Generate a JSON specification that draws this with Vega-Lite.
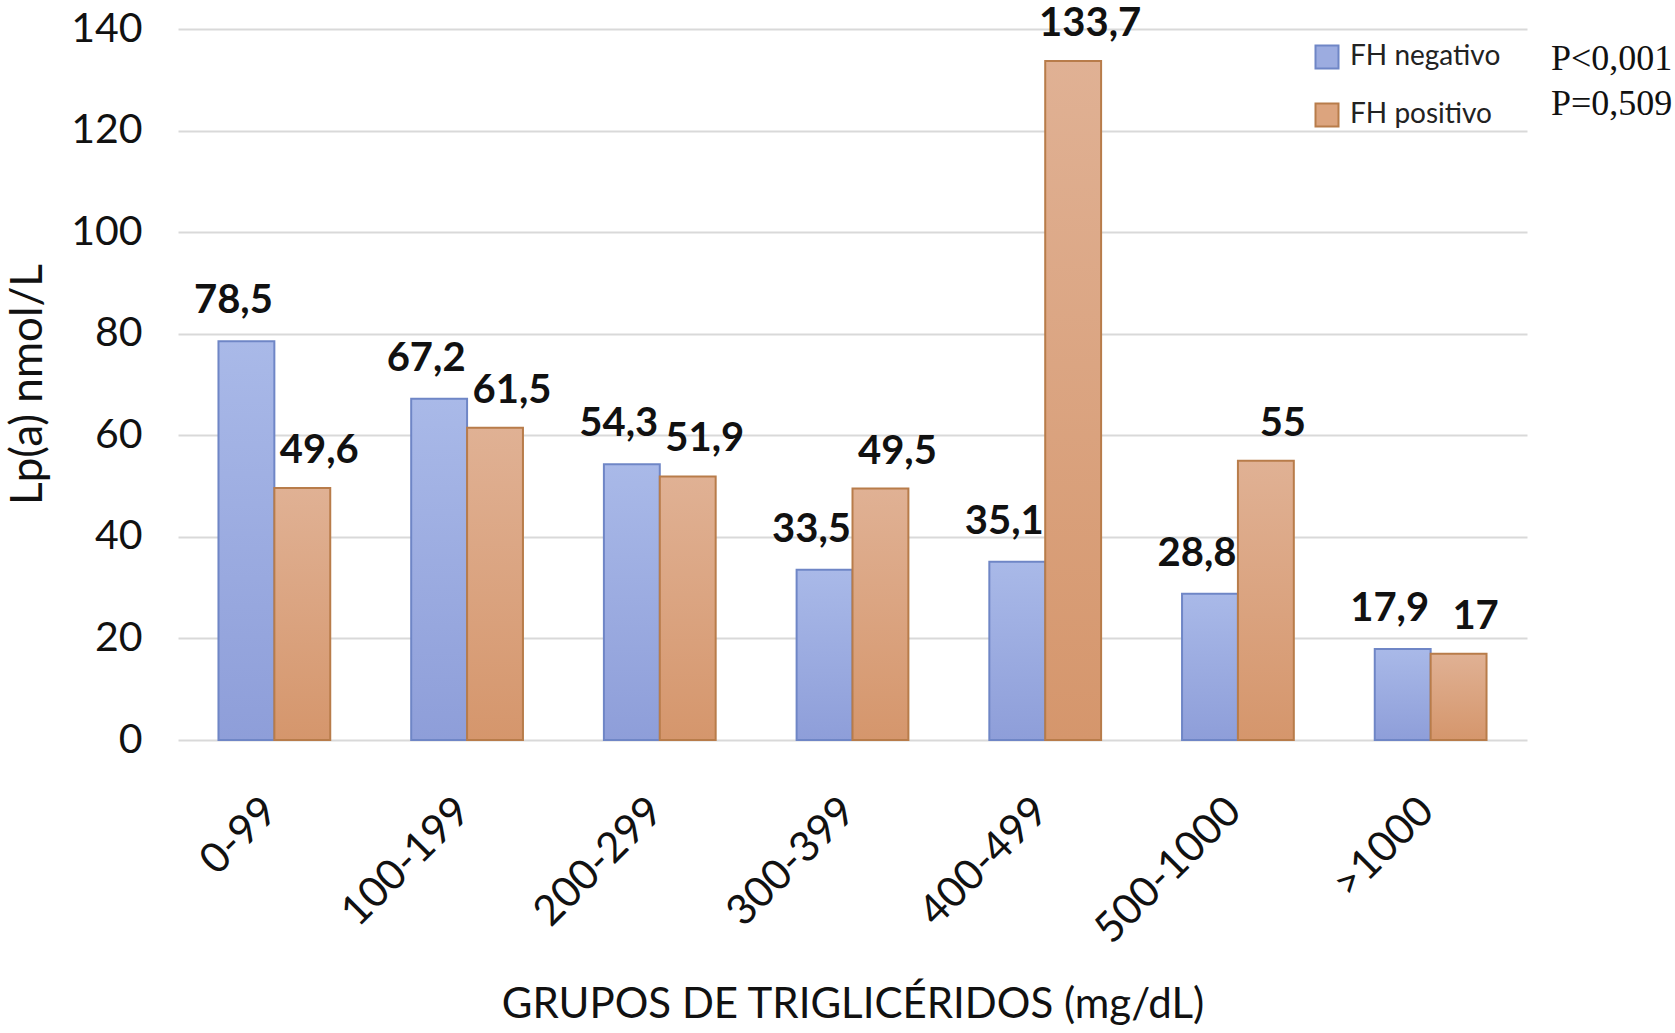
{
  "$schema": "https://vega.github.io/schema/vega-lite/v6.json",
  "width": 1349,
  "height": 711,
  "autosize": {"type": "none"},
  "padding": {"left": 178, "top": 29, "right": 148, "bottom": 293},
  "background": "white",
  "config": {
    "locale": {"number": {"decimal": ",", "thousands": ".", "grouping": [3], "currency": ["", " €"]}},
    "view": {"stroke": null},
    "font": "Lato"
  },
  "data": {
    "values": [
      {"grupo": "0-99", "serie": "FH negativo", "valor": 78.5, "p": "P<0,001"},
      {"grupo": "0-99", "serie": "FH positivo", "valor": 49.6, "p": "P=0,509"},
      {"grupo": "100-199", "serie": "FH negativo", "valor": 67.2, "p": "P<0,001"},
      {"grupo": "100-199", "serie": "FH positivo", "valor": 61.5, "p": "P=0,509"},
      {"grupo": "200-299", "serie": "FH negativo", "valor": 54.3, "p": "P<0,001"},
      {"grupo": "200-299", "serie": "FH positivo", "valor": 51.9, "p": "P=0,509"},
      {"grupo": "300-399", "serie": "FH negativo", "valor": 33.5, "p": "P<0,001"},
      {"grupo": "300-399", "serie": "FH positivo", "valor": 49.5, "p": "P=0,509"},
      {"grupo": "400-499", "serie": "FH negativo", "valor": 35.1, "p": "P<0,001"},
      {"grupo": "400-499", "serie": "FH positivo", "valor": 133.7, "p": "P=0,509"},
      {"grupo": "500-1000", "serie": "FH negativo", "valor": 28.8, "p": "P<0,001"},
      {"grupo": "500-1000", "serie": "FH positivo", "valor": 55, "p": "P=0,509"},
      {"grupo": ">1000", "serie": "FH negativo", "valor": 17.9, "p": "P<0,001"},
      {"grupo": ">1000", "serie": "FH positivo", "valor": 17, "p": "P=0,509"}
    ]
  },
  "encoding": {
    "x": {
      "field": "grupo",
      "type": "nominal",
      "sort": ["0-99", "100-199", "200-299", "300-399", "400-499", "500-1000", ">1000"],
      "scale": {"paddingInner": 0.42, "paddingOuter": 0.21},
      "axis": {
        "title": "GRUPOS DE TRIGLICÉRIDOS (mg/dL)",
        "labelAngle": -45,
        "labelFont": "Lato",
        "labelFontSize": 42,
        "labelColor": "#111111",
        "labelPadding": 50,
        "labelOffset": -18,
        "labelLimit": 400,
        "ticks": false,
        "domain": false,
        "grid": false,
        "titleFont": "Lato",
        "titleFontSize": 42,
        "titleFontWeight": "normal",
        "titleColor": "#111111",
        "titleY": 264,
        "titleBaseline": "middle"
      }
    },
    "xOffset": {
      "field": "serie",
      "type": "nominal",
      "sort": ["FH negativo", "FH positivo"],
      "scale": {"paddingInner": 0, "paddingOuter": 0}
    },
    "y": {
      "field": "valor",
      "type": "quantitative",
      "scale": {"domain": [0, 140], "nice": false},
      "axis": {
        "title": "Lp(a) nmol/L",
        "values": [0, 20, 40, 60, 80, 100, 120, 140],
        "grid": true,
        "gridColor": "#d9d9d9",
        "gridWidth": 2,
        "domain": false,
        "ticks": false,
        "labelPadding": 36,
        "labelFont": "Lato",
        "labelFontSize": 41,
        "labelColor": "#111111",
        "titleFont": "Lato",
        "titleFontSize": 44,
        "titleFontWeight": "normal",
        "titleColor": "#111111",
        "titleX": -150,
        "titleY": 355,
        "titleAngle": -90,
        "titleAlign": "center",
        "titleBaseline": "middle"
      }
    }
  },
  "layer": [
    {
      "transform": [{"filter": "datum.serie === 'FH negativo'"}],
      "mark": {
        "type": "bar",
        "strokeWidth": 2,
        "stroke": "#6f86c6",
        "fill": {"gradient": "linear", "x1": 0, "y1": 0, "x2": 0, "y2": 1, "stops": [{"offset": 0, "color": "#a9b9e8"}, {"offset": 1, "color": "#8e9ed9"}]}
      }
    },
    {
      "transform": [{"filter": "datum.serie === 'FH positivo'"}],
      "mark": {
        "type": "bar",
        "strokeWidth": 2,
        "stroke": "#b87c4a",
        "fill": {"gradient": "linear", "x1": 0, "y1": 0, "x2": 0, "y2": 1, "stops": [{"offset": 0, "color": "#e0b194"}, {"offset": 1, "color": "#d5966c"}]}
      }
    },
    {
      "mark": {"type": "point", "filled": true, "opacity": 0},
      "encoding": {
        "color": {
          "field": "serie",
          "type": "nominal",
          "scale": {"domain": ["FH negativo", "FH positivo"], "range": ["#9cace0", "#dca47e"]},
          "legend": {
            "title": null,
            "orient": "none",
            "legendX": 1135,
            "legendY": 14,
            "symbolType": "square",
            "symbolSize": 529,
            "symbolStrokeWidth": 2,
            "symbolOpacity": 1,
            "labelFont": "Lato",
            "labelFontSize": 28,
            "labelColor": "#222222",
            "labelOffset": 9,
            "rowPadding": 26,
            "padding": 0
          }
        },
        "stroke": {
          "field": "serie",
          "type": "nominal",
          "scale": {"domain": ["FH negativo", "FH positivo"], "range": ["#6f86c6", "#b87c4a"]},
          "legend": {
            "title": null,
            "orient": "none",
            "legendX": 1135,
            "legendY": 14,
            "symbolType": "square",
            "symbolSize": 529,
            "symbolStrokeWidth": 2,
            "symbolOpacity": 1,
            "labelFont": "Lato",
            "labelFontSize": 28,
            "labelColor": "#222222",
            "labelOffset": 9,
            "rowPadding": 26,
            "padding": 0
          }
        }
      }
    },
    {
      "transform": [{"filter": "datum.serie === 'FH negativo'"}],
      "mark": {"type": "text", "font": "Lato", "fontWeight": "bold", "fontSize": 40, "baseline": "middle", "dy": -40, "dx": -13, "color": "#111111"},
      "encoding": {"text": {"field": "valor", "type": "quantitative", "format": "~g"}}
    },
    {
      "transform": [{"filter": "datum.serie === 'FH positivo'"}],
      "mark": {"type": "text", "font": "Lato", "fontWeight": "bold", "fontSize": 40, "baseline": "middle", "dy": -37, "dx": 17, "color": "#111111"},
      "encoding": {"text": {"field": "valor", "type": "quantitative", "format": "~g"}}
    },
    {
      "mark": {"type": "point", "opacity": 0},
      "encoding": {
        "shape": {
          "field": "p",
          "type": "nominal",
          "scale": {"domain": ["P<0,001", "P=0,509"]},
          "legend": {
            "title": null,
            "orient": "none",
            "legendX": 1337,
            "legendY": 12,
            "symbolSize": 0,
            "symbolOpacity": 0,
            "labelFont": "Liberation Serif",
            "labelFontSize": 36,
            "labelColor": "#111111",
            "labelOffset": 0,
            "rowPadding": 9,
            "padding": 0
          }
        }
      }
    }
  ]
}
